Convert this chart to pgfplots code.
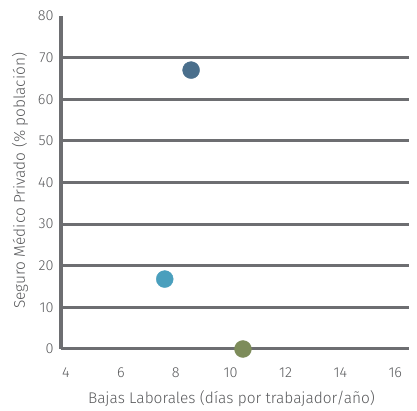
\documentclass[border=0pt]{standalone}
\usepackage{pgfplots}
\pgfplotsset{compat=1.18}
\usepackage{fontspec}
\setmainfont{Fira Sans}[UprightFont=* Light]
\definecolor{gridgray}{HTML}{6D6E71}
\definecolor{txtgray}{HTML}{58595B}
\definecolor{darkblue}{HTML}{4A6F8C}
\definecolor{lightblue}{HTML}{4A9FBD}
\definecolor{olive}{HTML}{7D8C5A}

\begin{document}
\begin{tikzpicture}
\begin{axis}[
    at={(0,0)}, anchor=south west,
    scale only axis,
    width=348bp, height=333bp,
    xmin=3.82, xmax=16.5,
    ymin=0, ymax=80,
    axis x line*=bottom,
    axis y line*=left,
    x axis line style={draw=none},
    y axis line style={gridgray, line width=3bp, -},
    xtick={4,6,...,16},
    ytick={0,10,...,70},
    extra y ticks={80},
    extra y tick style={grid=none},
    major tick length=0pt,
    ymajorgrids,
    grid style={gridgray, line width=3bp},
    tick label style={font=\fontsize{14.5}{16}\selectfont, text=txtgray},
    /pgf/number format/assume math mode=true,
    xticklabel style={yshift=-15bp},
    yticklabel style={xshift=-4bp},
    label style={font=\fontsize{15.5}{17}\selectfont, text=txtgray},
    xlabel={Bajas Laborales (días por trabajador/año)},
    xlabel style={at={(axis description cs:0.49,-0.15)}, anchor=center},
    ylabel={Seguro Médico Privado (\% población)},
    ylabel style={at={(axis description cs:-0.118,0.505)}, anchor=center, rotate=0},
    clip=false,
]
\addplot[only marks, mark=*, mark size=8.5bp, color=darkblue] coordinates {(8.56,67)};
\addplot[only marks, mark=*, mark size=8.5bp, color=lightblue] coordinates {(7.6,16.8)};
\addplot[only marks, mark=*, mark size=8.5bp, color=olive] coordinates {(10.45,0)};
\end{axis}
\path[use as bounding box] (-61bp,-61bp) rectangle (356bp,349bp);
\end{tikzpicture}
\end{document}
